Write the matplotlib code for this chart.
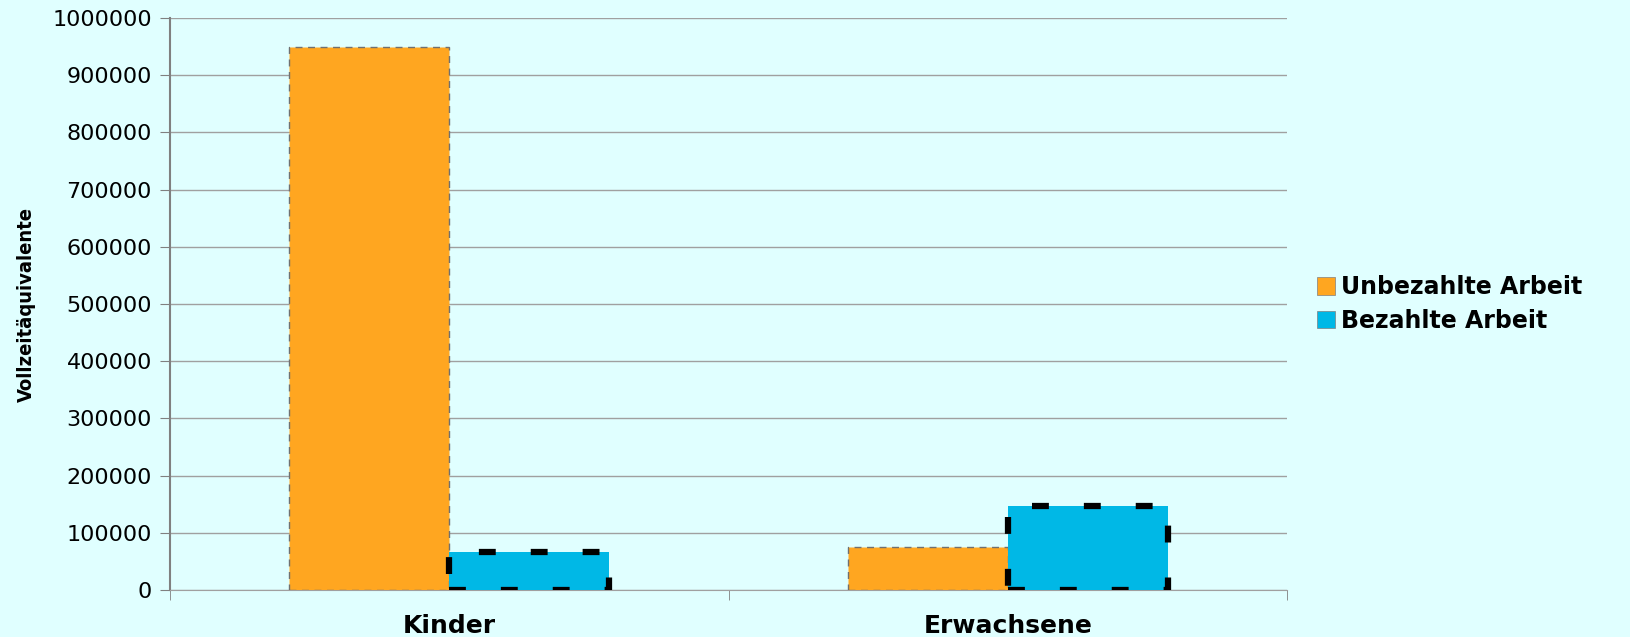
import numpy as np
import matplotlib.pyplot as plt

categories = ['Kinder', 'Erwachsene']
unbezahlt = [950000, 76000]
bezahlt = [66000, 147000]
series_names = ['Unbezahlte Arbeit', 'Bezahlte Arbeit']

bg = '#E0FFFF'
orange = '#FFA620'
blue = '#00B8E6'

fig = plt.figure(figsize=(16.3, 6.37), dpi=100, facecolor=bg)
ax = fig.add_axes([170 / 1630, 1 - 590 / 637, 1117 / 1630, 572 / 637])
ax.set_facecolor(bg)

x = np.arange(len(categories))
w = 0.2865
ax.bar(x - w / 2, unbezahlt, w, color=orange, edgecolor='#707070',
       linewidth=1.0, linestyle=(0, (5, 4)), label=series_names[0], zorder=3)
ax.bar(x + w / 2, bezahlt, w, color=blue, edgecolor='black',
       linewidth=4.5, linestyle=(0, (2.7, 5.6)), label=series_names[1], zorder=3)

ax.set_xlim(-0.5, 1.5)
ax.set_ylim(0, 1000000)
ax.set_yticks(np.arange(0, 1000001, 100000))
ax.set_yticklabels([str(v) for v in range(0, 1000001, 100000)], fontsize=16)
ax.yaxis.grid(True, color='#A0A0A0', linewidth=1.0, zorder=0)

ax.set_xticks(x)
ax.set_xticklabels(categories, fontsize=18, fontweight='bold')
ax.tick_params(axis='x', length=0, pad=17)
ax.set_xticks([-0.5, 0.5, 1.5], minor=True)
ax.tick_params(axis='x', which='minor', length=7, color='#808080', direction='out')
ax.tick_params(axis='y', length=7, color='#808080', pad=6)

for s in ['top', 'right']:
    ax.spines[s].set_visible(False)
ax.spines['left'].set_color('#808080')
ax.spines['bottom'].set_color('#A0A0A0')
ax.spines['left'].set_linewidth(1.5)

ax.set_ylabel('Vollzeitäquivalente', fontsize=14.5, fontweight='bold',
              fontstretch='condensed', family='DejaVu Sans')
ax.yaxis.set_label_coords(-134 / 1117, 0.5)

leg = ax.legend(loc='center left', bbox_to_anchor=(1.008, 0.5), frameon=False,
                prop={'size': 17, 'weight': 'bold'}, handlelength=0.75,
                handleheight=0.75, handletextpad=0.25, labelspacing=0.4)
for h in leg.legend_handles:
    h.set_linestyle('-')
    h.set_linewidth(0.5)
    h.set_edgecolor('#808080')

fig.savefig('out.png', dpi=100, facecolor=bg)
